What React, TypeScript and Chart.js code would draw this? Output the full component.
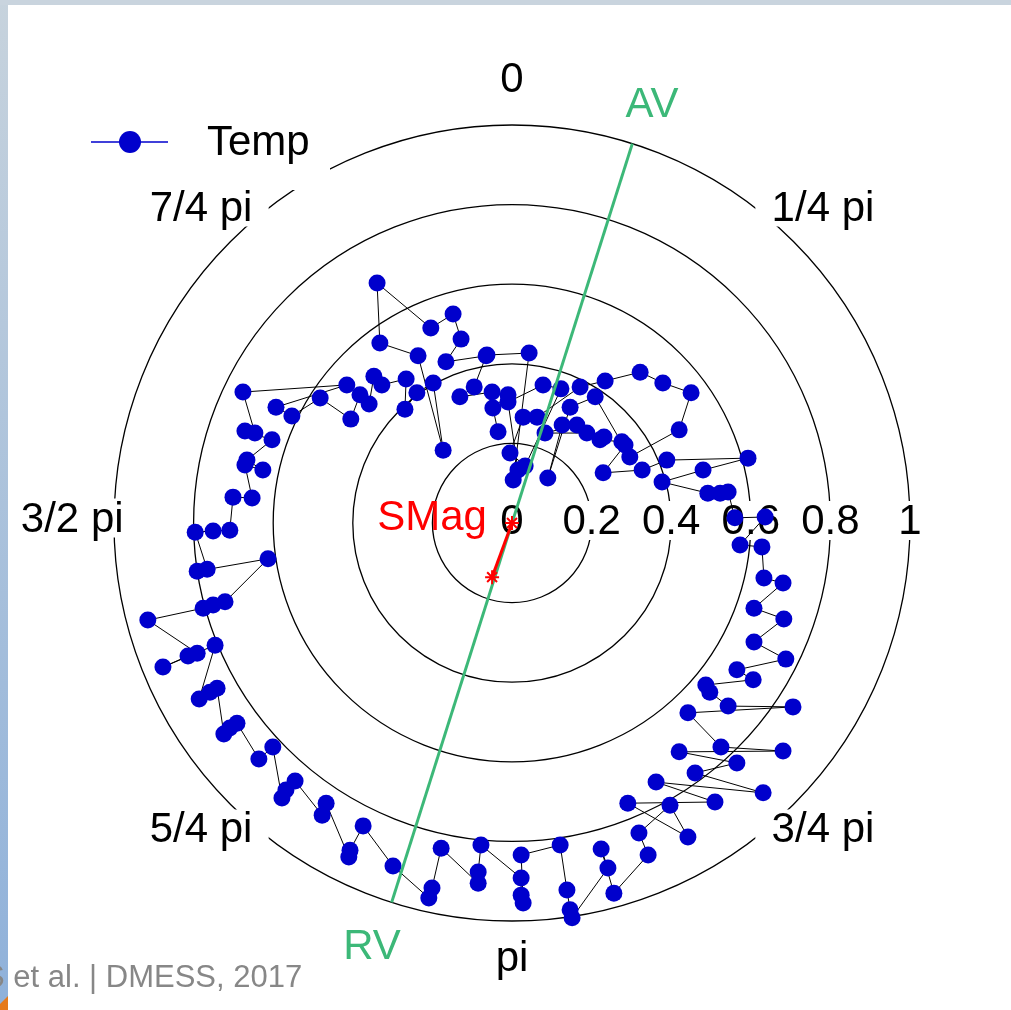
import { useEffect, useRef } from "react";
import { Chart, registerables } from "chart.js";

Chart.register(...registerables);

// ---- data (cartesian components of the polar "Temp" series; radius 0..1) ----
const tempX = [-0.063, 0.043, 0.003, 0.015, -0.010, 0.078, 0.123, 0.033, -0.005, 0.028, 0.063, 0.171, 0.234, 0.322, 0.379, 0.450, 0.420, 0.296, 0.209, 0.146, 0.090, 0.126, 0.163, 0.083, 0.188, 0.231, 0.221, 0.276, 0.284, 0.229, 0.327, 0.389, 0.593, 0.480, 0.377, 0.492, 0.523, 0.543, 0.560, 0.636, 0.573, 0.628, 0.633, 0.681, 0.608, 0.683, 0.608, 0.688, 0.565, 0.606, 0.487, 0.497, 0.543, 0.706, 0.442, 0.525, 0.681, 0.420, 0.565, 0.460, 0.631, 0.362, 0.510, 0.291, 0.442, 0.397, 0.319, 0.342, 0.256, 0.224, 0.241, 0.151, 0.146, 0.138, 0.121, 0.023, 0.028, 0.023, 0.023, -0.078, -0.085, -0.085, -0.178, -0.201, -0.209, -0.299, -0.374, -0.407, -0.410, -0.467, -0.477, -0.545, -0.568, -0.578, -0.601, -0.636, -0.691, -0.709, -0.724, -0.741, -0.759, -0.786, -0.746, -0.877, -0.814, -0.791, -0.915, -0.776, -0.751, -0.721, -0.613, -0.791, -0.766, -0.796, -0.751, -0.709, -0.701, -0.653, -0.671, -0.626, -0.666, -0.603, -0.671, -0.646, -0.676, -0.415, -0.593, -0.553, -0.482, -0.405, -0.382, -0.359, -0.347, -0.327, -0.266, -0.269, -0.239, -0.198, -0.173, -0.236, -0.332, -0.339, -0.204, -0.148, -0.128, -0.166, -0.065, -0.095, -0.131, -0.050, -0.010, -0.048, -0.035];
const tempY = [0.422, 0.427, 0.108, 0.133, 0.304, 0.347, 0.337, 0.143, 0.176, 0.266, 0.266, 0.342, 0.357, 0.379, 0.352, 0.327, 0.234, 0.166, 0.317, 0.291, 0.113, 0.246, 0.246, 0.226, 0.226, 0.216, 0.209, 0.204, 0.196, 0.126, 0.133, 0.158, 0.163, 0.133, 0.103, 0.075, 0.075, 0.078, 0.013, 0.015, -0.055, -0.060, -0.138, -0.151, -0.214, -0.241, -0.299, -0.342, -0.369, -0.394, -0.407, -0.425, -0.460, -0.462, -0.477, -0.563, -0.573, -0.575, -0.603, -0.628, -0.678, -0.651, -0.701, -0.704, -0.789, -0.709, -0.779, -0.834, -0.930, -0.819, -0.867, -0.992, -0.972, -0.922, -0.809, -0.834, -0.955, -0.935, -0.892, -0.809, -0.877, -0.905, -0.817, -0.917, -0.942, -0.862, -0.761, -0.822, -0.839, -0.704, -0.734, -0.648, -0.671, -0.691, -0.563, -0.593, -0.503, -0.515, -0.530, -0.415, -0.425, -0.442, -0.307, -0.362, -0.334, -0.327, -0.244, -0.214, -0.206, -0.198, -0.090, -0.121, -0.116, -0.023, -0.020, -0.018, 0.065, 0.063, 0.146, 0.133, 0.158, 0.209, 0.231, 0.226, 0.329, 0.347, 0.291, 0.269, 0.314, 0.261, 0.322, 0.299, 0.369, 0.347, 0.362, 0.286, 0.327, 0.352, 0.183, 0.420, 0.452, 0.603, 0.490, 0.525, 0.462, 0.405, 0.420, 0.342, 0.317, 0.329, 0.322, 0.289, 0.229];

// axis line AV -> RV (angle clockwise from 0, degrees)
const avAngleDeg = 17.6;
const axisLabels = ["AV", "RV"];
// SMag vector end (cartesian components)
const smagX = -0.05;
const smagY = -0.136;
const smagLabel = "SMag";

const gridRadii = [0.2, 0.4, 0.6, 0.8, 1];
const radialTicks = [0, 0.2, 0.4, 0.6, 0.8, 1];
const radialTickLabels = ["0", "0.2", "0.4", "0.6", "0.8", "1"];
const angleTicksDeg = [0, 45, 135, 180, 225, 270, 315];
const angleTickLabels = ["0", "1/4 pi", "3/4 pi", "pi", "5/4 pi", "3/2 pi", "7/4 pi"];
const seriesName = "Temp";
const footerText = "S et al. | DMESS, 2017";

// ---- layout ----
const W = 1011;
const H = 1010;
const CX = 512;
const CY = 523;
const PPU = 398;
const FONT = '42px "Liberation Sans", Arial, Helvetica, sans-serif';
const BLUE = "#0000cc";
const GREEN = "#3cb878";
const RED = "#ff0000";

const decor = {
  id: "polarDecor",
  beforeDraw(chart: any) {
    const ctx = chart.ctx as CanvasRenderingContext2D;
    ctx.save();
    ctx.fillStyle = "#ffffff";
    ctx.fillRect(0, 0, W, H);
    ctx.restore();
  },
  beforeDatasetsDraw(chart: any) {
    const ctx = chart.ctx as CanvasRenderingContext2D;
    const xs = chart.scales.x;
    const ys = chart.scales.y;
    const cx = xs.getPixelForValue(0);
    const cy = ys.getPixelForValue(0);
    const unit = xs.getPixelForValue(1) - cx;
    ctx.save();
    ctx.strokeStyle = "#000";
    ctx.lineWidth = 1.3;
    for (const r of gridRadii) {
      ctx.beginPath();
      ctx.arc(cx, cy, r * unit, 0, Math.PI * 2);
      ctx.stroke();
    }
    ctx.font = FONT;
    ctx.textAlign = "center";
    ctx.textBaseline = "alphabetic";
    // angle labels with white boxes
    angleTicksDeg.forEach((a, i) => {
      const t = (a * Math.PI) / 180;
      const px = cx + Math.sin(t) * 1.105 * unit;
      const py = cy - Math.cos(t) * 1.105 * unit;
      const txt = angleTickLabels[i];
      const w = ctx.measureText(txt).width;
      const base = py + 8.5;
      ctx.fillStyle = "#fff";
      ctx.fillRect(px - w * 0.6 - 6, base - 33, w * 1.2 + 12, 39);
      ctx.fillStyle = "#000";
      ctx.fillText(txt, px, base);
    });
    // radial labels with boxes
    radialTicks.forEach((r, i) => {
      const px = xs.getPixelForValue(r);
      const txt = radialTickLabels[i];
      const w = ctx.measureText(txt).width;
      const base = cy + 11;
      ctx.fillStyle = "#fff";
      ctx.fillRect(px - w * 0.6, base - 33, w * 1.2, 39);
      ctx.fillStyle = "#000";
      ctx.fillText(txt, px, base);
    });
    // SMag label
    ctx.fillStyle = RED;
    ctx.textAlign = "right";
    ctx.fillText(smagLabel, xs.getPixelForValue(-0.063), cy + 7);
    // AV / RV labels
    ctx.fillStyle = GREEN;
    ctx.textAlign = "center";
    const ta = ((avAngleDeg + 0.8) * Math.PI) / 180;
    const rl = 1.115 * unit;
    ctx.fillText(axisLabels[0], cx + Math.sin(ta) * rl, cy - Math.cos(ta) * rl + 14.7);
    ctx.fillText(axisLabels[1], cx - Math.sin(ta) * rl, cy + Math.cos(ta) * rl + 14.7);
    ctx.restore();
  },
  afterDatasetsDraw(chart: any) {
    const ctx = chart.ctx as CanvasRenderingContext2D;
    ctx.save();
    ctx.fillStyle = "#fff";
    ctx.fillRect(60, 95, 270, 95);
    ctx.strokeStyle = BLUE;
    ctx.lineWidth = 1.5;
    ctx.beginPath();
    ctx.moveTo(91, 142);
    ctx.lineTo(168, 142);
    ctx.stroke();
    ctx.fillStyle = BLUE;
    ctx.beginPath();
    ctx.arc(130, 142, 11, 0, Math.PI * 2);
    ctx.fill();
    ctx.font = FONT;
    ctx.fillStyle = "#000";
    ctx.textAlign = "left";
    ctx.textBaseline = "alphabetic";
    ctx.fillText(seriesName, 207, 155);
    ctx.restore();
  },
  afterDraw(chart: any) {
    const ctx = chart.ctx as CanvasRenderingContext2D;
    ctx.save();
    const g = ctx.createLinearGradient(0, 0, 0, H);
    g.addColorStop(0, "#c7d3dd");
    g.addColorStop(1, "#8fb1da");
    ctx.fillStyle = g;
    ctx.fillRect(0, 0, 8, H);
    ctx.fillStyle = "#c9d4de";
    ctx.fillRect(0, 0, W, 5);
    ctx.fillStyle = "#e57a1c";
    ctx.beginPath();
    ctx.moveTo(0, 1004);
    ctx.lineTo(8, 996);
    ctx.lineTo(8, H);
    ctx.lineTo(0, H);
    ctx.closePath();
    ctx.fill();
    // footer
    ctx.font = '31px "Liberation Sans", Arial, sans-serif';
    ctx.fillStyle = "#878787";
    ctx.textAlign = "left";
    ctx.textBaseline = "alphabetic";
    ctx.fillText(footerText, -16, 987);
    ctx.restore();
  },
};

export default function App() {
  const ref = useRef<HTMLCanvasElement | null>(null);
  useEffect(() => {
    if (!ref.current) return;
    const n = Math.min(tempX.length, tempY.length);
    const pts = [];
    for (let i = 0; i < n; i++) pts.push({ x: tempX[i], y: tempY[i] });
    const t = (avAngleDeg * Math.PI) / 180;
    const axisPts = [
      { x: Math.sin(t), y: Math.cos(t) },
      { x: -Math.sin(t), y: -Math.cos(t) },
    ];
    const smagPts = [
      { x: 0, y: 0 },
      { x: smagX, y: smagY },
    ];
    const xMin = -CX / PPU;
    const xMax = (W - CX) / PPU;
    const yMax = CY / PPU;
    const yMin = -(H - CY) / PPU;
    const chart = new Chart(ref.current, {
      type: "scatter",
      data: {
        datasets: [
          {
            label: smagLabel,
            data: smagPts,
            showLine: true,
            borderColor: RED,
            borderWidth: 3,
            pointStyle: "star",
            pointRadius: 7,
            pointBorderColor: RED,
            pointBorderWidth: 2,
            order: 1,
          },
          {
            label: "AV-RV",
            data: axisPts,
            showLine: true,
            borderColor: GREEN,
            borderWidth: 3,
            pointRadius: 0,
            order: 2,
          },
          {
            label: seriesName,
            data: pts,
            showLine: true,
            borderColor: "#000",
            borderWidth: 1,
            pointRadius: 8.5,
            pointBackgroundColor: BLUE,
            pointBorderColor: BLUE,
            pointBorderWidth: 0,
            order: 3,
          },
        ],
      },
      options: {
        animation: false,
        responsive: true,
        maintainAspectRatio: false,
        events: [],
        layout: { padding: 0, autoPadding: false },
        plugins: { legend: { display: false }, tooltip: { enabled: false } },
        scales: {
          x: { type: "linear", min: xMin, max: xMax, display: false },
          y: { type: "linear", min: yMin, max: yMax, display: false },
        },
      },
      plugins: [decor],
    });
    return () => chart.destroy();
  }, []);
  return (
    <div style={{ position: "absolute", left: 0, top: 0, width: W, height: H }}>
      <canvas ref={ref} />
    </div>
  );
}
